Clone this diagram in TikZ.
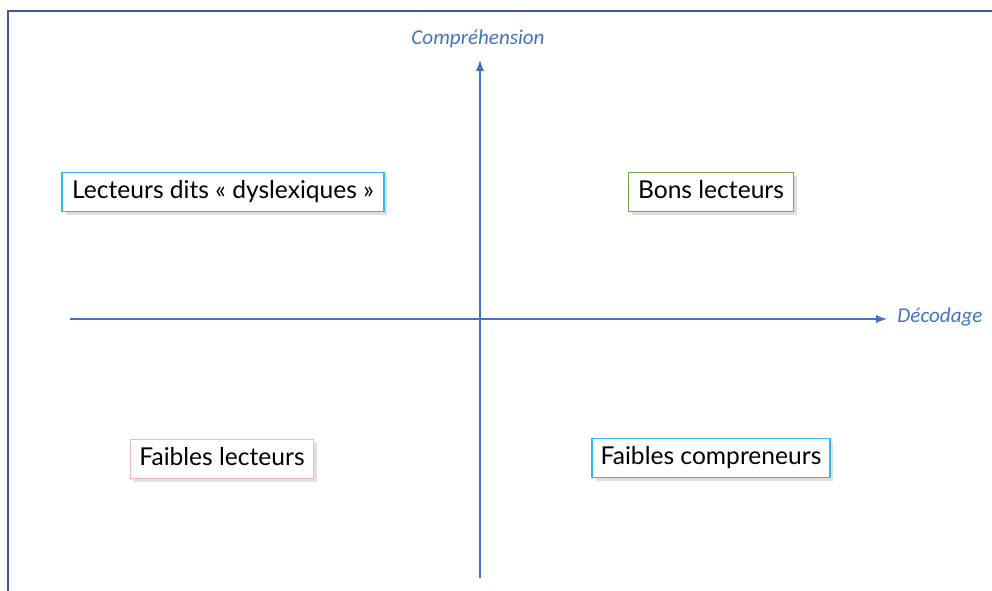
\documentclass[tikz,border=0pt]{standalone}
\usepackage{fontspec}
\setmainfont{Lato}
\newfontfamily\axisfont{Carlito}
\usetikzlibrary{shadows}
\definecolor{axisblue}{HTML}{4472C4}
\definecolor{framblue}{HTML}{3E5C8E}
\definecolor{boxcyan}{HTML}{33B8EE}
\definecolor{boxgreen}{HTML}{70AD47}
\definecolor{boxpink}{HTML}{F4B6B8}
\begin{document}
\begin{tikzpicture}
      [x=0.02cm,y=-0.02cm,
       quad/.style={draw, line width=1.1pt, fill=white, inner sep=0pt, minimum height=0.78cm,
         text height=10pt, text depth=3pt,
         font=\fontsize{14}{16}\selectfont,
         drop shadow={shadow xshift=2pt, shadow yshift=-2pt, opacity=0.25}},
       axis/.style={draw=axisblue, line width=1.2pt, -latex},
       axislabel/.style={text=axisblue, font=\axisfont\itshape\fontsize{12}{14}\selectfont}]
    \useasboundingbox (0,0) rectangle (992,591);
    % frame
    \draw[framblue, line width=1pt] (992,11) -- (8,11) -- (8,591);

    % axes
    \coordinate (xs) at (70,319);
    \coordinate (xe) at (887,319);
    \coordinate (ys) at (480,578);
    \coordinate (ye) at (480,60);
    \draw[axis] (xs) -- (xe);
    \draw[axis] (ys) -- (ye);
    \node[axislabel] (comp) at (478,39) {Compréhension};
    \node[axislabel] (deco) at (940,317) {Décodage};

    % quadrants
    \node[quad, draw=boxcyan, minimum width=6.44cm] (dys) at (223,192) {Lecteurs dits « dyslexiques »};
    \node[quad, draw=boxgreen, minimum width=3.3cm] (bons) at (711,192) {Bons lecteurs};
    \node[quad, draw=boxpink, minimum width=3.66cm] (faibl) at (222,459) {Faibles lecteurs};
    \node[quad, draw=boxcyan, minimum width=4.76cm] (faibc) at (711,458) {Faibles compreneurs};
\end{tikzpicture}
\end{document}
